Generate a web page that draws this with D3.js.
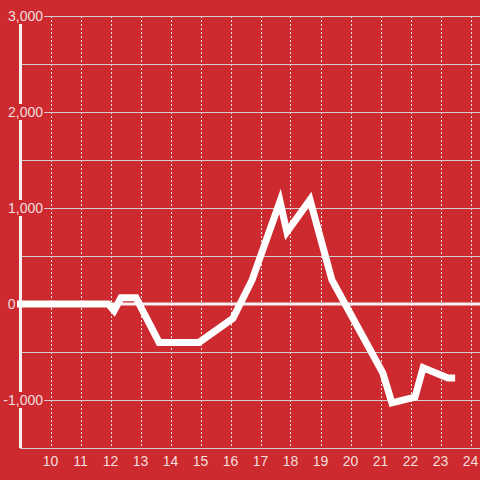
<!DOCTYPE html>
<meta charset="utf-8">
<head>
  <title>Line chart</title>
</head>
<style>
  body { margin: 0; background: #cc2a2f; }
  svg { display: block; }
  .lbl { font: 14px "Liberation Sans", Arial, sans-serif; fill: #f4dede; }
</style>
<body>
<script src="https://cdn.jsdelivr.net/npm/d3@7"></script>
<script>
// data (x = hour of day, y = value)
var hours  = [9, 11.92, 12.12, 12.35, 12.85, 13.62, 14.95, 16.08, 16.72, 17.65, 17.88, 18.65, 19.38, 21.08, 21.38, 22.15, 22.42, 23.25, 23.37];
var values = [0, 0, -70, 65, 65, -400, -400, -150, 250, 1070, 750, 1085, 250, -720, -1030, -970, -665, -770, -770];

var xTicks = [10, 11, 12, 13, 14, 15, 16, 17, 18, 19, 20, 21, 22, 23, 24];
var yGrid = [3000, 2500, 2000, 1500, 1000, 500, 0, -500, -1000, -1500];
var yLabels = [3000, 2000, 1000, 0, -1000];

var width = 480, height = 480;
var bg = "#cc2a2f";

var x = d3.scaleLinear().domain([9, 9 + 459.5 / 30]).range([20.5, 480]);
var y = d3.scaleLinear().domain([-1500, 3000]).range([448, 16]);

var fmt = function(d) { return d3.format(",")(d).replace("\u2212", "-"); };

var svg = d3.select("body").append("svg")
    .attr("width", width)
    .attr("height", height);

svg.append("rect")
    .attr("width", width).attr("height", height)
    .attr("fill", bg);

// vertical dashed grid
svg.selectAll(".vgrid")
    .data(xTicks)
  .enter().append("line")
    .attr("class", "vgrid")
    .attr("x1", function(d) { return Math.round(x(d)) + 0.5; })
    .attr("x2", function(d) { return Math.round(x(d)) + 0.5; })
    .attr("y1", y(3000)).attr("y2", y(-1500))
    .attr("stroke", "#e6e6e6")
    .attr("stroke-dasharray", "2,2");

// horizontal grid
svg.selectAll(".hgrid")
    .data(yGrid.filter(function(d) { return d !== 0; }))
  .enter().append("line")
    .attr("class", "hgrid")
    .attr("x1", x.range()[0]).attr("x2", width)
    .attr("y1", function(d) { return Math.round(y(d)) + 0.5; })
    .attr("y2", function(d) { return Math.round(y(d)) + 0.5; })
    .attr("stroke", "#cfcfcf");

// zero line
svg.append("line")
    .attr("x1", x.range()[0]).attr("x2", width)
    .attr("y1", y(0)).attr("y2", y(0))
    .attr("stroke", "#f4f0f0")
    .attr("stroke-width", 3);

// y axis bar
svg.append("line")
    .attr("x1", 20.5).attr("x2", 20.5)
    .attr("y1", y(3000)).attr("y2", y(-1500))
    .attr("stroke", "#f4f0f0")
    .attr("stroke-width", 3);

// y labels with a background patch that hides the axis bar
var yl = svg.selectAll(".ylab")
    .data(yLabels)
  .enter().append("g")
    .attr("transform", function(d) {
      // the zero label sits left of the axis, clear of the line
      return "translate(" + (d === 0 ? 15.5 : 43) + "," + y(d) + ")";
    });

yl.append("text")
    .attr("class", "lbl")
    .attr("text-anchor", "end")
    .attr("dy", "0.35em")
    .text(fmt)
    .each(function(d) {
      if (d === 0) return;
      var b = this.getBBox();
      d3.select(this.parentNode).insert("rect", "text")
          .attr("x", b.x - 1).attr("y", -8)
          .attr("width", b.width + 2).attr("height", 16)
          .attr("fill", bg);
    });

// data line
var pts = hours.map(function(h, i) { return [h, values[i]]; });
svg.append("path")
    .datum(pts)
    .attr("fill", "none")
    .attr("stroke", "#ffffff")
    .attr("stroke-width", 7)
    .attr("stroke-linejoin", "miter")
    .attr("stroke-linecap", "square")
    .attr("d", d3.line()
        .x(function(d) { return x(d[0]); })
        .y(function(d) { return y(d[1]); }));

// x axis line
svg.append("line")
    .attr("x1", x.range()[0]).attr("x2", width)
    .attr("y1", 448.5).attr("y2", 448.5)
    .attr("stroke", "#cfcfcf");

// x labels
svg.selectAll(".xlab")
    .data(xTicks)
  .enter().append("text")
    .attr("class", "lbl")
    .attr("text-anchor", "middle")
    .attr("x", function(d) { return x(d); })
    .attr("y", 466)
    .text(function(d) { return d; });
</script>
</body>
